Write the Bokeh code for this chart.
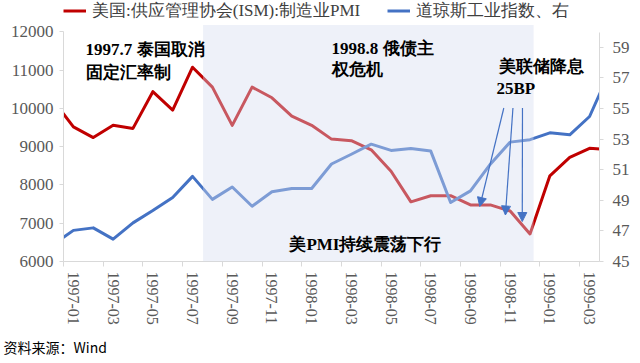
from bokeh.plotting import figure
from bokeh.models import (Range1d, LinearAxis, FixedTicker, BoxAnnotation, Label,
                          Arrow, NormalHead, Legend, LegendItem, Title)
from bokeh.embed import file_html
from bokeh.resources import INLINE

# ---------------- data ----------------
months = ["1996-12",
          "1997-01", "1997-02", "1997-03", "1997-04", "1997-05", "1997-06",
          "1997-07", "1997-08", "1997-09", "1997-10", "1997-11", "1997-12",
          "1998-01", "1998-02", "1998-03", "1998-04", "1998-05", "1998-06",
          "1998-07", "1998-08", "1998-09", "1998-10", "1998-11", "1998-12",
          "1999-01", "1999-02", "1999-03", "1999-04"]
pmi = [55.5,
       53.8, 53.1, 53.9, 53.7, 56.1, 54.9,
       57.7, 56.4, 53.9, 56.4, 55.7, 54.5,
       53.9, 53.0, 52.9, 52.3, 50.9, 48.9,
       49.3, 49.3, 48.7, 48.7, 48.3, 46.8,
       50.6, 51.8, 52.4, 52.3]
dow = [6448,
       6813, 6878, 6583, 7009, 7331, 7673,
       8223, 7622, 7945, 7442, 7823, 7908,
       7907, 8546, 8800, 9063, 8900, 8952,
       8883, 7539, 7843, 8540, 9117, 9181,
       9359, 9307, 9786, 10950]
tick_months = ["1997-01", "1997-03", "1997-05", "1997-07", "1997-09", "1997-11",
               "1998-01", "1998-03", "1998-05", "1998-07", "1998-09", "1998-11",
               "1999-01", "1999-03"]
left_ticks = [6000, 7000, 8000, 9000, 10000, 11000, 12000]
right_ticks = [45, 47, 49, 51, 53, 55, 57, 59]
pmi_label = "美国:供应管理协会(ISM):制造业PMI"
dow_label = "道琼斯工业指数、右"

# ---------------- figure ----------------
RED = "#C00000"
BLUE = "#4472C4"
AX = "#D9D9D9"
TXT = "#595959"
SERIF = "Liberation Serif"

xs = [i - 1 for i in range(len(months))]
label_ticks = [months.index(m) - 1 for m in tick_months]
bound_ticks = [t - 0.5 for t in label_ticks]

p = figure(width=640, height=363, output_backend="svg", toolbar_location=None,
           x_range=Range1d(-0.5, 26.5), y_range=Range1d(6000, 12815),
           x_axis_type=None, y_axis_type=None,
           min_border_left=63, min_border_right=41, min_border_top=0,
           min_border_bottom=102)
p.extra_y_ranges = {"pmi": Range1d(45, 62.06)}
p.outline_line_color = None
p.background_fill_color = "white"
p.border_fill_color = "white"

lax = LinearAxis(ticker=FixedTicker(ticks=left_ticks), bounds=(6000, 12000),
                 axis_line_color=AX, major_tick_line_color=AX, major_tick_out=4,
                 major_tick_in=0, minor_tick_line_color=None,
                 major_label_text_font=SERIF, major_label_text_font_size="17px",
                 major_label_text_color=TXT, major_label_standoff=6)
p.add_layout(lax, "left")
rax = LinearAxis(y_range_name="pmi", ticker=FixedTicker(ticks=right_ticks), bounds=(45, 60),
                 axis_line_color=AX, major_tick_line_color=AX, major_tick_out=4,
                 major_tick_in=0, minor_tick_line_color=None,
                 major_label_text_font=SERIF, major_label_text_font_size="17px",
                 major_label_text_color=TXT, major_label_standoff=9)
p.add_layout(rax, "right")

bax = LinearAxis(ticker=FixedTicker(ticks=bound_ticks), axis_line_color=AX,
                 major_tick_line_color=AX, major_tick_out=5, major_tick_in=0,
                 minor_tick_line_color=None, major_label_text_font_size="1px",
                 major_label_text_color=None, major_label_standoff=0,
                 major_label_overrides={t: "" for t in bound_ticks})
p.add_layout(bax, "below")
lbax = LinearAxis(ticker=FixedTicker(ticks=label_ticks), axis_line_color=None,
                  major_tick_line_color=None, major_tick_out=0, major_tick_in=0,
                  minor_tick_line_color=None, major_label_orientation="vertical",
                  major_label_text_font=SERIF, major_label_text_font_size="16px",
                  major_label_text_color=TXT, major_label_standoff=5,
                  major_label_overrides={t: m for t, m in zip(label_ticks, tick_months)})
p.add_layout(lbax, "below")

p.add_layout(Title(text="资料来源：Wind", align="left", offset=-60, standoff=14,
                   text_font="Noto Sans CJK SC", text_font_size="14px",
                   text_font_style="normal", text_color="black"), "below")

red = p.line(xs, pmi, y_range_name="pmi", line_color=RED, line_width=3, line_join="round")
blue = p.line(xs, dow, line_color=BLUE, line_width=3, line_join="round")

# shaded period
p.add_layout(BoxAnnotation(left=6.53, right=23.18, bottom=6000, top=12175,
                           fill_color="#D4DCF0", fill_alpha=0.4, line_color=None))

legend = Legend(items=[LegendItem(label=pmi_label, renderers=[red]),
                       LegendItem(label=dow_label, renderers=[blue])],
                orientation="horizontal", location=(0, 239.5),
                padding=0, margin=0, spacing=27, glyph_width=23, glyph_height=17,
                label_height=17, label_standoff=6, label_text_font=SERIF,
                label_text_font_size="17px", label_text_color="#404040",
                background_fill_alpha=0, border_line_color=None)
p.add_layout(legend)

notes = [("1997.7 泰国取消", 0.61, 11548), ("固定汇率制", 0.63, 10948),
         ("1998.8 俄债主", 13.0, 11574), ("权危机", 13.0, 11013),
         ("美联储降息", 21.46, 11104), ("25BP", 21.31, 10530),
         ("美PMI持续震荡下行", 10.88, 6431)]
for txt, x, y in notes:
    p.add_layout(Label(x=x, y=y, text=txt, text_font=SERIF, text_font_style="bold",
                       text_font_size="17px", text_color="black",
                       text_baseline="middle", text_align="left"))

for (x0, y0, x1, y1) in [(21.68, 10008, 20.47, 7436), (22.14, 10008, 21.76, 7214),
                         (22.62, 10008, 22.61, 7044)]:
    p.add_layout(Arrow(x_start=x0, y_start=y0, x_end=x1, y_end=y1, line_color=BLUE,
                       line_width=1.2,
                       end=NormalHead(size=9, fill_color=BLUE, line_color=BLUE)))

open("out.html", "w").write(file_html(p, INLINE))
